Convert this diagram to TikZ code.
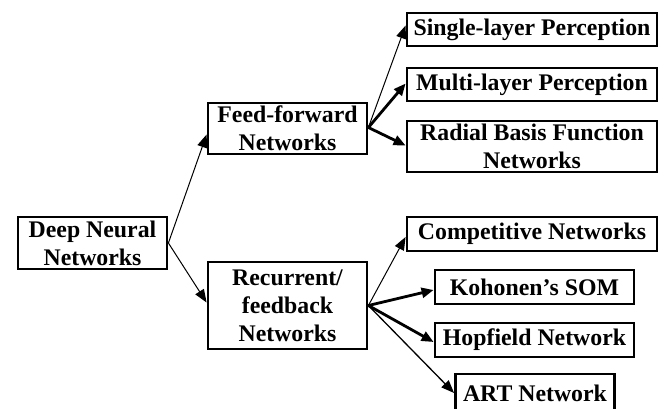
\documentclass[tikz,border=0pt]{standalone}
\usepackage{fontspec}
\setmainfont{Liberation Serif}
\usetikzlibrary{arrows.meta,calc}
\begin{document}
\begin{tikzpicture}[x=1pt,y=-1pt,
  box/.style={draw, line width=2.8pt, inner sep=0pt, align=center,
    font=\fontsize{23.8}{28}\selectfont\bfseries},
  thin/.style={line width=1pt, -{Triangle[length=13pt,width=10pt]}},
  thick/.style={line width=2.8pt, -{Triangle[length=12pt,width=10pt]}}]
\clip (0,0) rectangle (665,408);
\fill[white] (0,0) rectangle (665,408);
\node[box, minimum width=149pt, minimum height=52pt] (dnn) at (92.5,243) {Deep Neural\\Networks};
\node[box, minimum width=159pt, minimum height=51pt] (ff) at (287.5,128.5) {Feed-forward\\Networks};
\node[box, minimum width=159pt, minimum height=87pt] (rec) at (287.5,305.5) {Recurrent/\\feedback\\Networks};
\node[box, minimum width=250pt, minimum height=33pt] (slp) at (532,29.5) {Single-layer Perception};
\node[box, minimum width=250pt, minimum height=33pt] (mlp) at (532,84.5) {Multi-layer Perception};
\node[box, minimum width=250pt, minimum height=51pt] (rbf) at (532,146.5) {Radial Basis Function\\Networks};
\node[box, minimum width=250pt, minimum height=34pt] (comp) at (532,234) {Competitive Networks};
\node[box, minimum width=199pt, minimum height=34pt] (koh) at (534.5,287) {Kohonen’s SOM};
\node[box, minimum width=199pt, minimum height=34pt] (hop) at (534.5,340) {Hopfield Network};
\node[box, minimum width=159pt, minimum height=38pt] (art) at (535,393) {ART Network};
\draw[thin] (dnn.east) -- ($(ff.west)+(0,6)$);
\draw[thin] (dnn.east) -- ($(rec.west)+(0,-3)$);
\coordinate (fo) at ($(ff.east)+(0,-1)$);
\draw[thin] (fo) -- ($(slp.west)+(0,-4)$);
\draw[thick] (fo) -- ($(mlp.west)+(0,-1)$);
\draw[thick] (fo) -- ($(rbf.west)+(0,-1)$);
\coordinate (ro) at (rec.east);
\draw[thin] (ro) -- ($(comp.west)+(0,3)$);
\draw[thick] (ro) -- ($(koh.west)+(0,3)$);
\draw[thick] (ro) -- ($(hop.west)+(0,2)$);
\draw[thin, line width=1.3pt] (ro) -- (art.west);
\end{tikzpicture}
\end{document}
